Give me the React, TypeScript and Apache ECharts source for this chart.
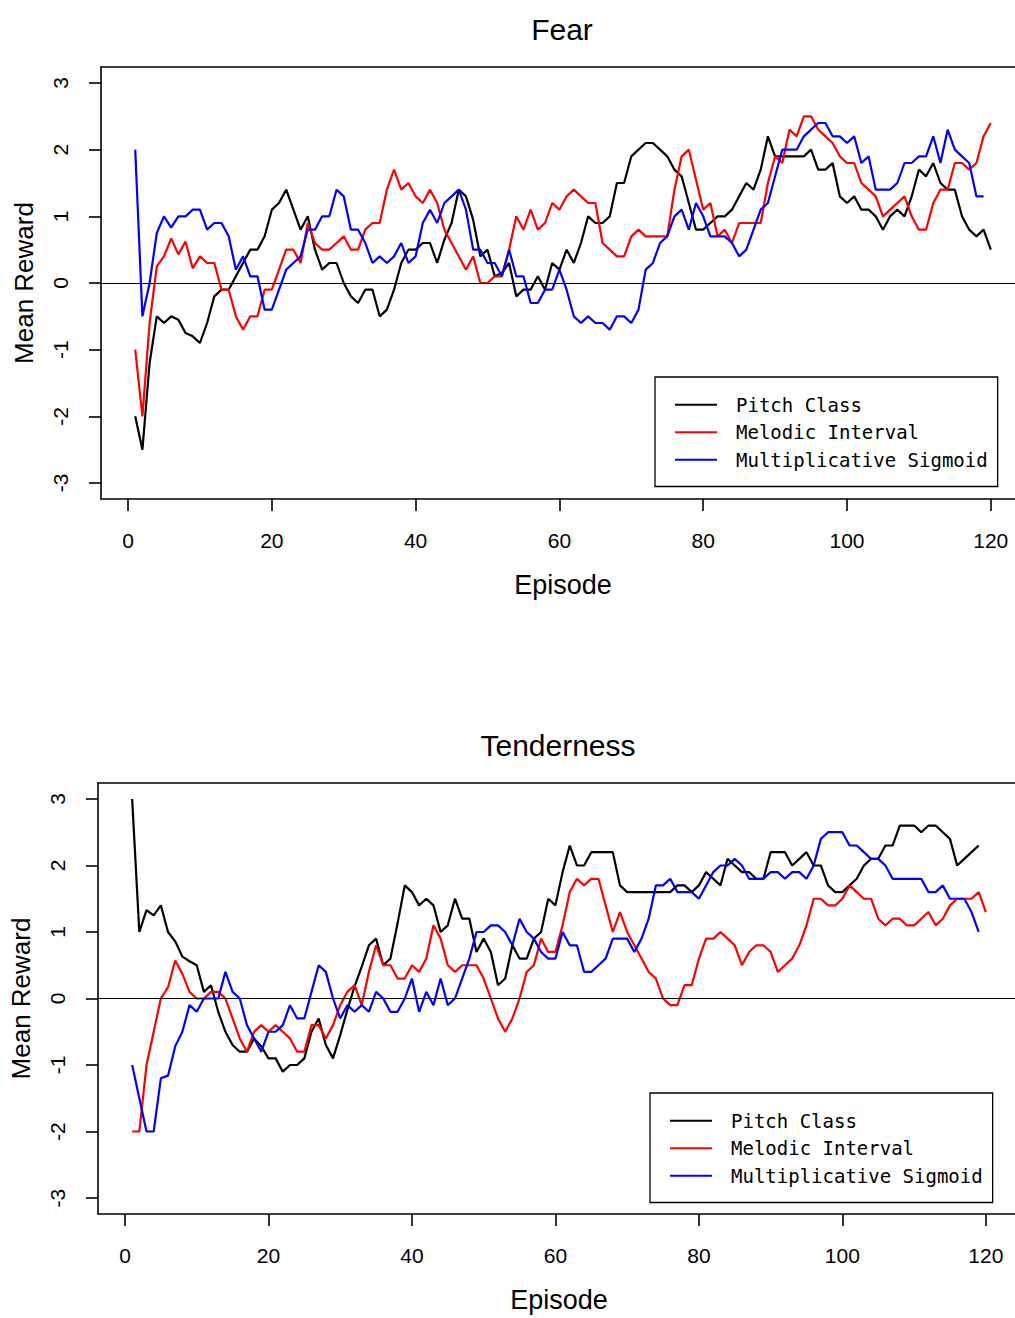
import React, { useEffect, useRef } from "react";
import * as echarts from "echarts";

// ---------- data ----------
const episodes: number[] = Array.from({ length: 120 }, (_, i) => i + 1);

const fearPitchClass = [
  -2.0, -2.5, -1.2, -0.5, -0.6, -0.5, -0.55, -0.75, -0.8, -0.9,
  -0.6, -0.2, -0.1, -0.1, 0.1, 0.3, 0.5, 0.5, 0.7, 1.1,
  1.2, 1.4, 1.1, 0.8, 1.0, 0.5, 0.2, 0.3, 0.3, 0.0,
  -0.2, -0.3, -0.1, -0.1, -0.5, -0.4, -0.1, 0.3, 0.5, 0.5,
  0.6, 0.6, 0.3, 0.65, 0.9, 1.4, 1.3, 0.95, 0.4, 0.5,
  0.1, 0.15, 0.3, -0.2, -0.1, -0.1, 0.1, -0.1, 0.3, 0.2,
  0.5, 0.3, 0.6, 1.0, 0.9, 0.9, 1.0, 1.5, 1.5, 1.9,
  2.0, 2.1, 2.1, 2.0, 1.9, 1.7, 1.6, 1.2, 0.8, 0.8,
  0.9, 1.0, 1.0, 1.1, 1.3, 1.5, 1.4, 1.7, 2.2, 1.9,
  1.9, 1.9, 1.9, 1.9, 2.0, 1.7, 1.7, 1.8, 1.3, 1.2,
  1.3, 1.1, 1.1, 1.0, 0.8, 1.0, 1.1, 1.0, 1.3, 1.7,
  1.6, 1.8, 1.5, 1.4, 1.4, 1.0, 0.8, 0.7, 0.8, 0.5,
];

const fearMelodicInterval = [
  -1.0, -2.0, -0.6, 0.25, 0.4, 0.67, 0.43, 0.62, 0.22, 0.4,
  0.3, 0.3, -0.1, -0.1, -0.5, -0.7, -0.5, -0.5, -0.1, -0.1,
  0.2, 0.5, 0.5, 0.3, 0.9, 0.6, 0.5, 0.5, 0.6, 0.7,
  0.5, 0.5, 0.8, 0.9, 0.9, 1.4, 1.7, 1.4, 1.5, 1.3,
  1.2, 1.4, 1.2, 0.8, 0.6, 0.4, 0.2, 0.4, 0.0, 0.0,
  0.1, 0.1, 0.5, 1.0, 0.8, 1.1, 0.8, 0.9, 1.2, 1.1,
  1.3, 1.4, 1.3, 1.2, 1.2, 0.6, 0.5, 0.4, 0.4, 0.7,
  0.8, 0.7, 0.7, 0.7, 0.7, 1.4, 1.9, 2.0, 1.55, 1.1,
  1.2, 0.7, 0.8, 0.6, 0.9, 0.9, 0.9, 0.9, 1.5, 1.9,
  1.8, 2.3, 2.2, 2.5, 2.5, 2.3, 2.2, 2.1, 1.9, 1.8,
  1.8, 1.5, 1.4, 1.3, 1.0, 1.1, 1.2, 1.3, 1.0, 0.8,
  0.8, 1.2, 1.4, 1.4, 1.8, 1.8, 1.7, 1.8, 2.2, 2.4,
];

const fearMultiplicativeSigmoid = [
  2.0, -0.5, 0.0, 0.75, 1.0, 0.83, 1.0, 1.0, 1.1, 1.1,
  0.8, 0.9, 0.9, 0.7, 0.2, 0.4, 0.1, 0.1, -0.4, -0.4,
  -0.1, 0.2, 0.3, 0.4, 0.8, 0.8, 1.0, 1.0, 1.4, 1.3,
  0.8, 0.8, 0.6, 0.3, 0.4, 0.3, 0.4, 0.6, 0.3, 0.4,
  0.9, 1.1, 0.9, 1.2, 1.3, 1.4, 1.1, 0.5, 0.5, 0.3,
  0.3, 0.1, 0.5, 0.1, 0.1, -0.3, -0.3, -0.1, -0.1, 0.2,
  -0.1, -0.5, -0.6, -0.5, -0.6, -0.6, -0.7, -0.5, -0.5, -0.6,
  -0.4, 0.2, 0.3, 0.6, 0.7, 1.0, 1.1, 0.8, 1.2, 1.0,
  0.7, 0.7, 0.7, 0.6, 0.4, 0.5, 0.8, 1.1, 1.2, 1.6,
  2.0, 2.0, 2.0, 2.2, 2.3, 2.4, 2.4, 2.2, 2.2, 2.1,
  2.2, 1.8, 1.9, 1.4, 1.4, 1.4, 1.5, 1.8, 1.8, 1.9,
  1.9, 2.2, 1.8, 2.3, 2.0, 1.9, 1.8, 1.3, 1.3,
];

const tenderPitchClass = [
  3.0, 1.0, 1.33, 1.25, 1.4, 1.0, 0.86, 0.63, 0.56, 0.5,
  0.1, 0.2, -0.2, -0.5, -0.7, -0.8, -0.8, -0.6, -0.72, -0.9,
  -0.9, -1.1, -1.0, -1.0, -0.9, -0.5, -0.3, -0.7, -0.9, -0.55,
  -0.17, 0.18, 0.48, 0.8, 0.9, 0.5, 0.6, 1.13, 1.7, 1.6,
  1.4, 1.5, 1.4, 1.0, 1.1, 1.5, 1.2, 1.2, 0.7, 0.9,
  0.7, 0.2, 0.3, 0.8, 0.6, 0.6, 0.9, 1.0, 1.5, 1.4,
  1.9, 2.3, 2.0, 2.0, 2.2, 2.2, 2.2, 2.2, 1.7, 1.6,
  1.6, 1.6, 1.6, 1.6, 1.6, 1.6, 1.7, 1.7, 1.6, 1.7,
  1.9, 1.8, 1.7, 2.1, 2.0, 1.9, 1.9, 1.8, 1.8, 2.2,
  2.2, 2.2, 2.0, 2.1, 2.2, 2.0, 2.0, 1.7, 1.6, 1.6,
  1.7, 1.8, 2.0, 2.1, 2.1, 2.3, 2.3, 2.6, 2.6, 2.6,
  2.5, 2.6, 2.6, 2.5, 2.4, 2.0, 2.1, 2.2, 2.3,
];

const tenderMelodicInterval = [
  -2.0, -2.0, -1.0, -0.5, 0.0, 0.17, 0.57, 0.37, 0.1, 0.0,
  0.0, 0.1, 0.1, 0.0, -0.3, -0.6, -0.8, -0.5, -0.4, -0.5,
  -0.4, -0.5, -0.6, -0.8, -0.8, -0.4, -0.4, -0.6, -0.4, -0.1,
  0.1, 0.2, -0.1, 0.4, 0.8, 0.5, 0.5, 0.3, 0.3, 0.5,
  0.4, 0.6, 1.1, 0.9, 0.5, 0.4, 0.5, 0.5, 0.5, 0.3,
  0.0, -0.3, -0.5, -0.3, 0.0, 0.4, 0.5, 0.9, 0.7, 0.7,
  1.1, 1.6, 1.8, 1.7, 1.8, 1.8, 1.4, 1.0, 1.3, 1.0,
  0.8, 0.6, 0.4, 0.3, 0.0, -0.1, -0.1, 0.2, 0.2, 0.6,
  0.9, 0.9, 1.0, 0.9, 0.8, 0.5, 0.7, 0.8, 0.8, 0.7,
  0.4, 0.5, 0.6, 0.8, 1.1, 1.5, 1.5, 1.4, 1.4, 1.5,
  1.7, 1.6, 1.5, 1.5, 1.2, 1.1, 1.2, 1.2, 1.1, 1.1,
  1.2, 1.3, 1.1, 1.2, 1.4, 1.5, 1.5, 1.5, 1.6, 1.3,
];

const tenderMultiplicativeSigmoid = [
  -1.0, -1.5, -2.0, -2.0, -1.2, -1.16, -0.72, -0.5, -0.1, -0.2,
  0.0, 0.0, 0.0, 0.4, 0.1, 0.0, -0.4, -0.6, -0.8, -0.5,
  -0.5, -0.4, -0.1, -0.3, -0.3, 0.1, 0.5, 0.4, 0.0, -0.3,
  -0.1, -0.2, -0.1, -0.2, 0.1, 0.0, -0.2, -0.2, 0.0, 0.3,
  -0.2, 0.1, -0.1, 0.3, -0.1, 0.0, 0.3, 0.6, 1.0, 1.0,
  1.1, 1.1, 1.0, 0.8, 1.2, 1.0, 0.9, 0.7, 0.6, 0.6,
  1.0, 0.8, 0.8, 0.4, 0.4, 0.5, 0.6, 0.9, 0.9, 0.9,
  0.7, 0.9, 1.2, 1.7, 1.7, 1.8, 1.6, 1.6, 1.6, 1.5,
  1.7, 1.9, 2.0, 2.0, 2.1, 2.0, 1.8, 1.8, 1.8, 1.9,
  1.9, 1.8, 1.9, 1.9, 1.8, 2.0, 2.4, 2.5, 2.5, 2.5,
  2.3, 2.3, 2.2, 2.1, 2.1, 2.0, 1.8, 1.8, 1.8, 1.8,
  1.8, 1.6, 1.6, 1.7, 1.5, 1.5, 1.5, 1.3, 1.0,
];

const seriesNames = ["Pitch Class", "Melodic Interval", "Multiplicative Sigmoid"];
const seriesColors = ["#000000", "#ff0000", "#0000ff"];
const panelTitles = ["Fear", "Tenderness"];
const xAxisTitle = "Episode";
const yAxisTitle = "Mean Reward";
const xTickValues = [0, 20, 40, 60, 80, 100, 120];
const yTickValues = [-3, -2, -1, 0, 1, 2, 3];

// ---------- layout ----------
const sansFont = "'Liberation Sans', Arial, sans-serif";
const monoFont = "'DejaVu Sans Mono', 'Liberation Mono', monospace";

const panels = [
  {
    title: panelTitles[0],
    values: [fearPitchClass, fearMelodicInterval, fearMultiplicativeSigmoid],
    grid: { left: 101, top: 67, width: 924, height: 432 },
    titlePos: [562, 29],
    legendPos: { left: 655, top: 377 },
  },
  {
    title: panelTitles[1],
    values: [tenderPitchClass, tenderMelodicInterval, tenderMultiplicativeSigmoid],
    grid: { left: 96, top: 783, width: 924, height: 431 },
    titlePos: [558, 745],
    legendPos: { left: 650, top: 1093 },
  },
];

function buildOption() {
  const lineStyle = { color: "#000", width: 1.6 };
  return {
    animation: false,
    backgroundColor: "#ffffff",
    grid: panels.map((p) => ({ ...p.grid, containLabel: false })),
    xAxis: panels.flatMap((p, i) => [
      {
        type: "value",
        gridIndex: i,
        position: "bottom",
        min: -3.76,
        max: 124.76,
        axisLine: { show: true, onZero: false, lineStyle },
        axisTick: { show: true, length: 12, customValues: xTickValues, lineStyle },
        axisLabel: {
          show: true,
          customValues: xTickValues,
          margin: 31,
          fontSize: 21,
          fontFamily: sansFont,
          color: "#000",
        },
        splitLine: { show: false },
        name: xAxisTitle,
        nameLocation: "middle",
        nameGap: 72,
        nameTextStyle: { fontSize: 27, fontFamily: sansFont, color: "#000" },
      },
      {
        type: "value",
        gridIndex: i,
        position: "top",
        min: -3.76,
        max: 124.76,
        axisLine: { show: true, onZero: false, lineStyle },
        axisTick: { show: false },
        axisLabel: { show: false },
        splitLine: { show: false },
      },
    ]),
    yAxis: panels.map((p, i) => ({
      type: "value",
      gridIndex: i,
      min: -3.24,
      max: 3.24,
      axisLine: { show: true, onZero: false, lineStyle },
      axisTick: { show: true, length: 12, customValues: yTickValues, lineStyle },
      axisLabel: {
        show: true,
        customValues: yTickValues,
        rotate: 90,
        margin: 30,
        fontSize: 21,
        fontFamily: sansFont,
        color: "#000",
      },
      splitLine: { show: false },
      name: yAxisTitle,
      nameLocation: "middle",
      nameRotate: 90,
      nameGap: 64,
      nameTextStyle: { fontSize: 26, fontFamily: sansFont, color: "#000" },
    })),
    legend: panels.map((p) => ({
      show: true,
      ...p.legendPos,
      orient: "vertical",
      data: seriesNames,
      selectedMode: false,
      icon: "rect",
      itemWidth: 42,
      itemHeight: 2,
      itemGap: 0,
      padding: [14, 10, 13, 20],
      borderColor: "#000",
      borderWidth: 1.3,
      borderRadius: 0,
      backgroundColor: "#ffffff",
      textStyle: {
        fontFamily: monoFont,
        fontSize: 19,
        color: "#000",
        lineHeight: 27.5,
        padding: [0, 0, 0, 14],
      },
    })),
    graphic: panels.map((p) => ({
      type: "text",
      x: p.titlePos[0],
      y: p.titlePos[1],
      style: {
        text: p.title,
        fill: "#000",
        fontSize: 30,
        fontFamily: sansFont,
        align: "center",
        verticalAlign: "middle",
      },
    })),
    series: panels.flatMap((p, i) =>
      p.values.map((vals, k) => ({
        name: seriesNames[k],
        type: "line",
        xAxisIndex: i * 2,
        yAxisIndex: i,
        data: vals.map((v, j) => [episodes[j], v]),
        symbol: "none",
        showSymbol: false,
        lineStyle: { color: seriesColors[k], width: 2.2 },
        itemStyle: { color: seriesColors[k] },
        z: 3 + k,
        markLine:
          k === 0
            ? {
                silent: true,
                symbol: ["none", "none"],
                label: { show: false },
                lineStyle: { color: "#000", width: 1.2, type: "solid" },
                data: [{ yAxis: 0 }],
              }
            : undefined,
      }))
    ),
  };
}

export default function App() {
  const ref = useRef<HTMLDivElement>(null);
  useEffect(() => {
    if (!ref.current) return;
    const chart = echarts.init(ref.current, null, { renderer: "svg" });
    chart.setOption(buildOption() as any);
    return () => chart.dispose();
  }, []);
  return (
    <div
      style={{
        position: "absolute",
        left: 0,
        top: 0,
        width: 1015,
        height: 1318,
        overflow: "hidden",
        background: "#fff",
      }}
    >
      <div ref={ref} style={{ width: 1040, height: 1318 }} />
    </div>
  );
}
